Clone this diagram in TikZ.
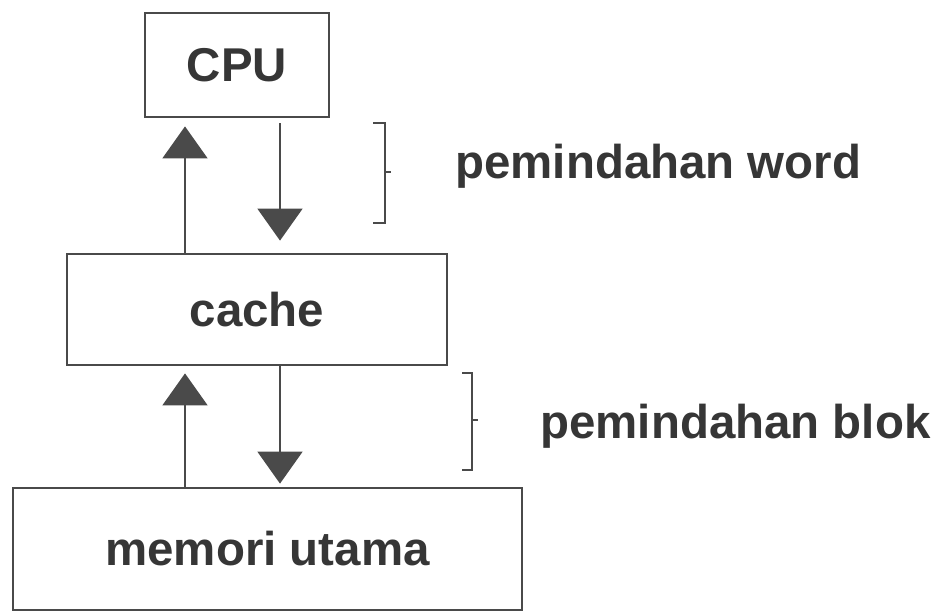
\documentclass[tikz,border=0pt]{standalone}
\usepackage{fontspec}
\setmainfont{Liberation Sans}
\usetikzlibrary{arrows.meta}
\definecolor{BoxLine}{HTML}{4A4A4A}
\definecolor{BoxText}{HTML}{363636}

\begin{document}
\begin{tikzpicture}[x=0.02cm,y=-0.02cm,
    unit/.style={draw=BoxLine,line width=1.6pt,text=BoxText,inner sep=0pt,
      font=\bfseries\fontsize{27}{32}\selectfont},
    flow/.style={-{Triangle[width=0.9cm,length=0.64cm]},BoxLine,line width=1pt},
    grp/.style={BoxLine,line width=1.3pt},
    lab/.style={anchor=base west,text=BoxText,inner sep=0pt,
      font=\bfseries\fontsize{27}{32}\selectfont}]
  \useasboundingbox (0,0) rectangle (944,612);

  % the three levels
  \node[unit,minimum width=3.68cm,minimum height=2.08cm] (cpu) at (237,65) {CPU};
  \node[unit,minimum width=7.6cm,minimum height=2.22cm] (cache) at (257,309.5) {cache};
  \node[unit,minimum width=10.18cm,minimum height=2.44cm] (mem) at (267.5,549) {memori utama};

  \coordinate (up) at (185,0);
  \coordinate (dn) at (280,0);

  % transfers
  \draw[flow,shorten >=0.16cm] (cache.north -| up) -- (cpu.south -| up);
  \draw[flow,shorten <=0.1cm,shorten >=0.24cm] (cpu.south -| dn) -- (cache.north -| dn);
  \draw[flow,shorten >=0.14cm] (mem.north -| up) -- (cache.south -| up);
  \draw[flow,shorten >=0.06cm] (cache.south -| dn) -- (mem.north -| dn);

  % what moves where
  \node[lab] (word) at (455,178) {pemindahan word};
  \node[lab] (blok) at (540,438) {pemindahan blok};
  \draw[grp] (373,123) -- (385,123) -- (385,223) -- (373,223);
  \draw[grp] (385,172) -- (391,172);
  \draw[grp] (462,373) -- (472,373) -- (472,470) -- (462,470);
  \draw[grp] (472,420) -- (478,420);
\end{tikzpicture}
\end{document}
